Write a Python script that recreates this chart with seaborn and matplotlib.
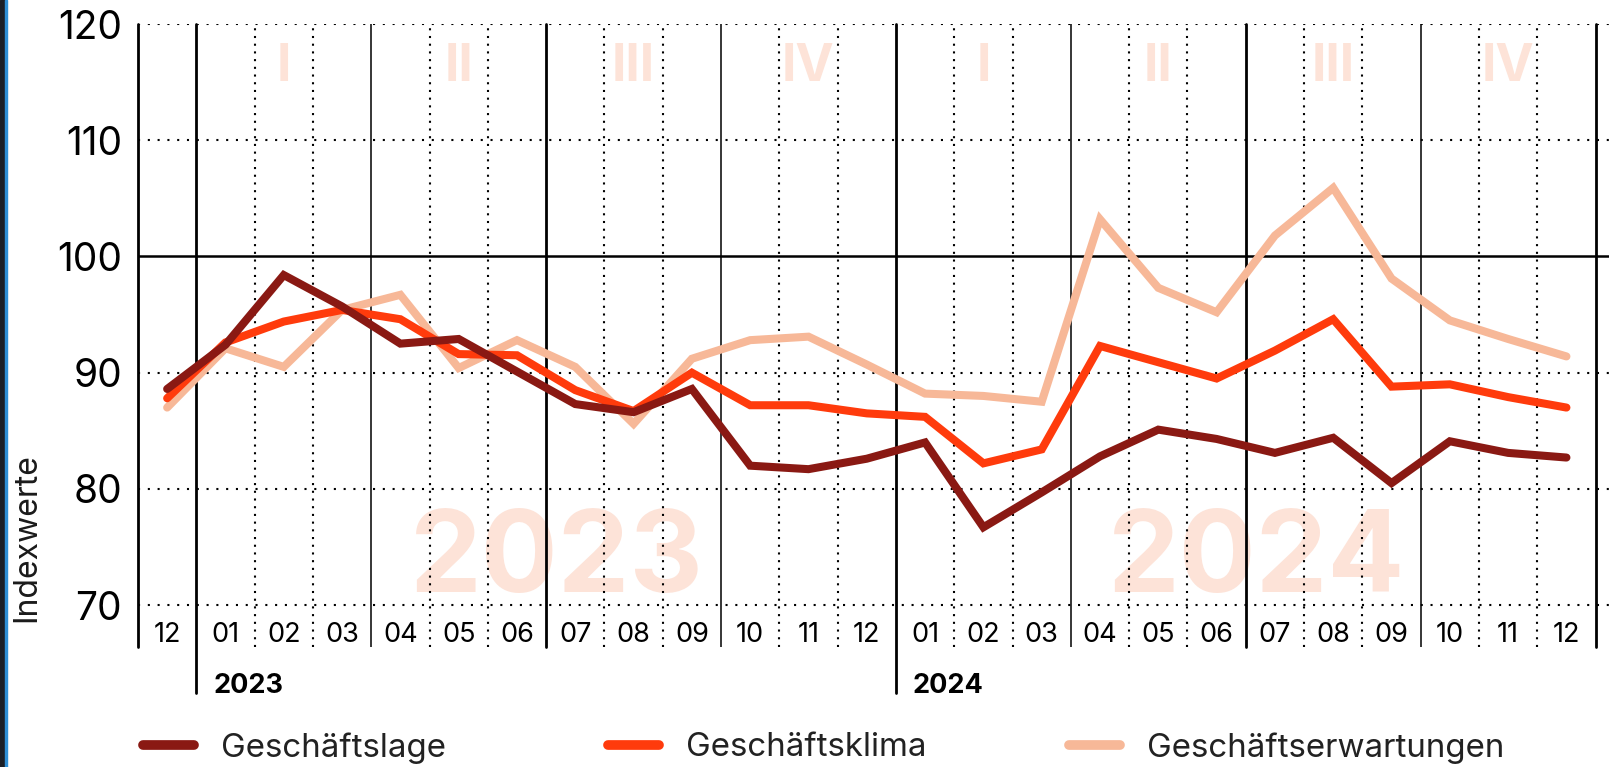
import numpy as np
import pandas as pd
import matplotlib
matplotlib.use("Agg")
import matplotlib.pyplot as plt
import seaborn as sns
from matplotlib.lines import Line2D
from matplotlib.patches import Rectangle

# ---------------- data ----------------
months = ["12", "01", "02", "03", "04", "05", "06", "07", "08", "09", "10", "11", "12",
          "01", "02", "03", "04", "05", "06", "07", "08", "09", "10", "11", "12"]
geschaeftslage = [88.6, 92.4, 98.4, 95.7, 92.5, 92.9, 90.1, 87.3, 86.6, 88.6, 82.0, 81.7, 82.6,
                  84.0, 76.7, 79.7, 82.8, 85.1, 84.3, 83.1, 84.4, 80.5, 84.1, 83.1, 82.7]
geschaeftsklima = [87.8, 92.6, 94.4, 95.4, 94.6, 91.6, 91.5, 88.5, 86.7, 90.0, 87.2, 87.2, 86.5,
                   86.2, 82.2, 83.4, 92.3, 90.9, 89.5, 91.9, 94.6, 88.8, 89.0, 87.9, 87.0]
geschaeftserwartungen = [87.0, 92.1, 90.5, 95.4, 96.7, 90.4, 92.8, 90.5, 85.6, 91.2, 92.8, 93.1, 90.7,
                         88.2, 88.0, 87.5, 103.2, 97.3, 95.2, 101.8, 105.9, 98.1, 94.5, 92.9, 91.4]
series_names = ["Geschäftslage", "Geschäftsklima", "Geschäftserwartungen"]
quarter_labels = ["I", "II", "III", "IV", "I", "II", "III", "IV"]
year_labels = ["2023", "2024"]
yticks = [70, 80, 90, 100, 110, 120]
y_label = "Indexwerte"

# ---------------- style ----------------
colors = {"Geschäftslage": "#8a1913", "Geschäftsklima": "#ff3b0c", "Geschäftserwartungen": "#f7b898"}
pale = "#fde3d8"

sns.set_theme(style="white")
plt.rcParams['font.family'] = ['Inter', 'DejaVu Sans']

W, H = 1609, 767
fig = plt.figure(figsize=(W / 100, H / 100), dpi=100)
fig.patch.set_facecolor("white")
ax = fig.add_axes([138 / W, 1 - 647 / H, (W - 138) / W, (647 - 24) / H])
ax.set_xlim(-0.5, 24.73)
ax.set_ylim(66.4, 120)
for s in ax.spines.values():
    s.set_visible(False)

idx = np.arange(len(months))
df = pd.DataFrame({
    "idx": np.tile(idx, 3),
    "value": geschaeftslage + geschaeftsklima + geschaeftserwartungen,
    "serie": np.repeat(series_names, len(months)),
})

# watermark years
for k, y in enumerate(year_labels):
    ax.text(6.69 + 12 * k, 71.1, y, ha="center", va="baseline", fontsize=82,
            fontweight="bold", color=pale, zorder=0)
# quarter labels
for q, lab in enumerate(quarter_labels):
    ax.text(2 + 3 * q, 115.1, lab, ha="center", va="baseline", fontsize=37,
            fontweight="bold", color=pale, zorder=0.5)

# horizontal grid
for v in yticks:
    if v == 100:
        ax.axhline(v, color="black", lw=1.8, zorder=1)
    else:
        ax.axhline(v, color="black", lw=1.5, linestyle=(0, (1, 3.7)), zorder=1)

# vertical grid
for b in range(26):
    x = b - 0.5
    if b in (0, 1, 7, 13, 19, 25):
        ext = -0.074 if b in (1, 13) else 0
        ax.axvline(x, ymin=ext, ymax=1, color="black", lw=2.0, zorder=1, clip_on=False)
    elif b in (4, 10, 16, 22):
        ax.axvline(x, color="black", lw=1.1, zorder=1)
    else:
        ax.axvline(x, color="black", lw=1.5, linestyle=(0, (1, 2.7)), zorder=1)

# data lines (drawn light to dark)
for z, name in enumerate(reversed(series_names)):
    sub = df[df["serie"] == name]
    sns.lineplot(data=sub, x="idx", y="value", ax=ax, color=colors[name], lw=5.8,
                 zorder=3 + z, legend=False, solid_joinstyle="miter", solid_capstyle="round")

# month labels
for i, m in enumerate(months):
    ax.text(i, 66.84, m, ha="center", va="baseline", fontsize=19.5, color="black", zorder=2)
# year labels
for k, y in enumerate(year_labels):
    ax.text(0.79 + 12 * k, 62.4, y, ha="left", va="baseline", fontsize=19.5,
            fontweight="bold", color="black", clip_on=False)

ax.set_xticks([])
ax.set_yticks(yticks)
ax.set_yticklabels([str(v) for v in yticks], fontsize=28, color="black")
ax.tick_params(axis="y", length=0, pad=11.5)
ax.set_xlabel("")
ax.set_ylabel("")

fig.text(27 / W, 1 - 538 / H, y_label, rotation=90, ha="center", va="center",
         fontsize=23, color="#1a1a1a")

# legend (three entries placed individually)
leg_x = [143, 608, 1069]
for name, lx in zip(series_names, leg_x):
    h = Line2D([], [], color=colors[name], lw=7, solid_capstyle="round")
    fig.legend([h], [name], loc="center left", bbox_to_anchor=(lx / W, 1 - 748 / H),
               frameon=False, fontsize=23.8, handlelength=1.55, handletextpad=0.8,
               borderpad=0, borderaxespad=0, labelcolor="#222222")

# left screen border
fig.patches.append(Rectangle((0, 0), 5 / W, 1, transform=fig.transFigure,
                             color="#1b1f27", zorder=10))
fig.patches.append(Rectangle((5 / W, 0), 2 / W, 1, transform=fig.transFigure,
                             color="#2f8fd6", zorder=10))

fig.savefig("out.png", dpi=100, facecolor="white")
